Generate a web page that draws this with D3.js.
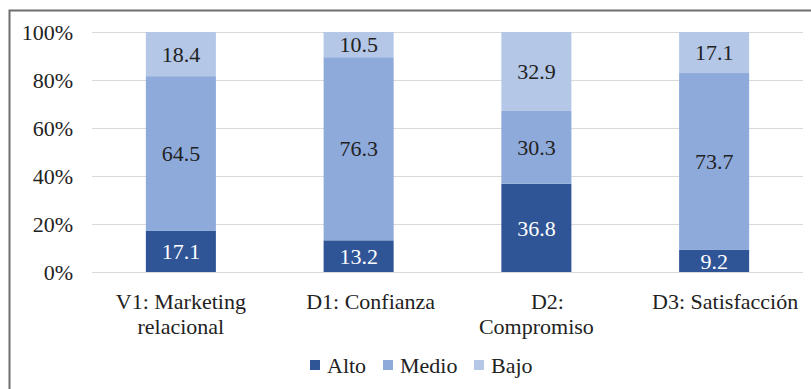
<!DOCTYPE html>
<html>
<head>
<meta charset="utf-8">
<script src="https://cdn.jsdelivr.net/npm/d3@7"></script>
<style>
  body { margin: 0; background: #fff; }
  svg { display: block; }
</style>
</head>
<body>
<div id="chart"></div>
<script>
// data
const categories = [["V1: Marketing", "relacional"], ["D1: Confianza"], ["D2:", "Compromiso"], ["D3: Satisfacción"]];
const seriesNames = ["Alto", "Medio", "Bajo"];
const alto = [17.1, 13.2, 36.8, 9.2];
const medio = [64.5, 76.3, 30.3, 73.7];
const bajo = [18.4, 10.5, 32.9, 17.1];
const yTicks = [0, 20, 40, 60, 80, 100];

const colors = ["#2f5597", "#8eaadb", "#b4c7e7"];
const labelColors = ["#ffffff", "#222222", "#222222"];
// in the source some category lines sit a bit right of the bar centre
const lineShift = [[0, 0], [12], [11, 0], [11]];
const serif = "Liberation Serif";
const fs = 22;

const width = 811, height = 389;
const margin = { top: 32, right: 8, bottom: 117, left: 92 };

const svg = d3.select("#chart").append("svg")
    .attr("width", width)
    .attr("height", height)
    .style("font-family", serif);

// outer frame
svg.append("rect")
    .attr("x", 9.5).attr("y", 10.5)
    .attr("width", 810).attr("height", 390)
    .attr("fill", "none")
    .attr("stroke", "#6e6e6e")
    .attr("stroke-width", 2);

const x = d3.scaleBand()
    .domain(d3.range(categories.length))
    .range([margin.left, width - margin.right])
    .paddingInner(0.606)
    .paddingOuter(0.303);

const y = d3.scaleLinear()
    .domain([0, 100])
    .range([height - margin.bottom, margin.top]);

// gridlines + y labels
const yAxis = d3.axisLeft(y)
    .tickValues(yTicks)
    .tickFormat(d => d + "%")
    .tickSize(-(width - margin.right - margin.left))
    .tickPadding(19);

svg.append("g")
    .attr("transform", `translate(${margin.left},0)`)
    .call(yAxis)
    .call(g => g.select(".domain").remove())
    .call(g => g.selectAll(".tick line").attr("stroke", "#d9d9d9").attr("stroke-width", 1))
    .call(g => g.selectAll(".tick text")
        .style("font-family", serif)
        .style("font-size", fs + "px")
        .attr("fill", "#222"));

// stack
const rows = categories.map((c, i) => ({ i, Alto: alto[i], Medio: medio[i], Bajo: bajo[i] }));
const stacked = d3.stack().keys(seriesNames)(rows);

const layers = svg.append("g").selectAll("g")
    .data(stacked)
    .join("g")
    .attr("fill", (d, k) => colors[k]);

layers.selectAll("rect")
    .data(d => d)
    .join("rect")
    .attr("x", d => x(d.data.i))
    .attr("y", d => y(d[1]))
    .attr("width", x.bandwidth())
    .attr("height", d => y(d[0]) - y(d[1]));

// value labels
stacked.forEach((layer, k) => {
    svg.append("g").selectAll("text")
        .data(layer)
        .join("text")
        .attr("x", d => x(d.data.i) + x.bandwidth() / 2)
        .attr("y", d => (y(d[0]) + y(d[1])) / 2)
        .attr("dy", "0.35em")
        .attr("text-anchor", "middle")
        .style("font-family", serif)
        .style("font-size", fs + "px")
        .attr("fill", labelColors[k])
        .text(d => d.data[seriesNames[k]].toFixed(1));
});

// category labels
const xg = svg.append("g");
categories.forEach((lines, i) => {
    const t = xg.append("text")
        .attr("text-anchor", "middle")
        .style("font-family", serif)
        .style("font-size", fs + "px")
        .attr("fill", "#222")
        .attr("y", 309);
    lines.forEach((ln, j) => {
        t.append("tspan")
            .attr("x", x(i) + x.bandwidth() / 2 + lineShift[i][j])
            .attr("dy", j === 0 ? 0 : 25)
            .text(ln);
    });
});

// legend
const legendX = [310, 383, 474];
const legend = svg.append("g").selectAll("g")
    .data(seriesNames)
    .join("g")
    .attr("transform", (d, k) => `translate(${legendX[k]},360)`);

legend.append("rect")
    .attr("width", 10).attr("height", 10)
    .attr("fill", (d, k) => colors[k]);

legend.append("text")
    .attr("x", 17)
    .attr("y", 13)
    .style("font-family", serif)
    .style("font-size", fs + "px")
    .attr("fill", "#222")
    .text(d => d);
</script>
</body>
</html>
